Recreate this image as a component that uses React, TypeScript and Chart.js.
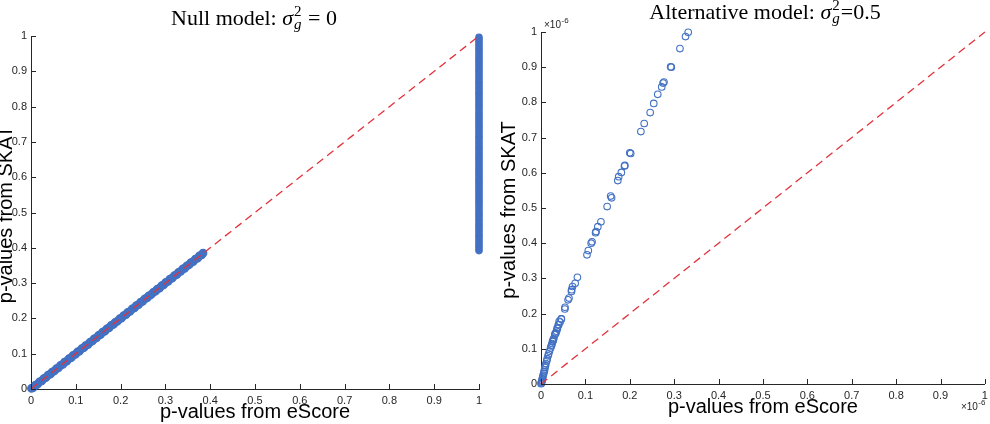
import { useEffect, useRef } from 'react';
import { Chart, registerables } from 'chart.js';

Chart.register(...registerables);

// Shared tick positions and their printed labels (both axes, both panels)
const TICK_VALUES = [0, 0.1, 0.2, 0.3, 0.4, 0.5, 0.6, 0.7, 0.8, 0.9, 1];
const TICK_LABELS = ['0', '0.1', '0.2', '0.3', '0.4', '0.5', '0.6', '0.7', '0.8', '0.9', '1'];

// y = x reference line
const REF_LINE_X = [0, 1];
const REF_LINE_Y = [0, 1];

// Null model: points lying on the diagonal (eScore vs SKAT p-values)
const NULL_DIAG_ESCORE = [
  0.001, 0.005, 0.010, 0.014, 0.019, 0.024, 0.028, 0.033, 0.038, 0.043, 0.047, 0.052,
  0.057, 0.061, 0.066, 0.071, 0.075, 0.080, 0.085, 0.090, 0.094, 0.099, 0.104, 0.108,
  0.113, 0.118, 0.122, 0.127, 0.132, 0.137, 0.141, 0.146, 0.151, 0.155, 0.160, 0.165,
  0.169, 0.174, 0.179, 0.184, 0.188, 0.193, 0.198, 0.202, 0.207, 0.212, 0.216, 0.221,
  0.226, 0.231, 0.235, 0.240, 0.245, 0.249, 0.254, 0.259, 0.263, 0.268, 0.273, 0.278,
  0.282, 0.287, 0.292, 0.296, 0.301, 0.306, 0.310, 0.315, 0.320, 0.325, 0.329, 0.334,
  0.339, 0.343, 0.348, 0.353, 0.357, 0.362, 0.367, 0.372, 0.376, 0.381, 0.384,
];
const NULL_DIAG_SKAT = [
  0.002, 0.004, 0.011, 0.013, 0.020, 0.023, 0.029, 0.032, 0.039, 0.042, 0.048, 0.051,
  0.058, 0.060, 0.067, 0.070, 0.076, 0.079, 0.086, 0.089, 0.095, 0.098, 0.105, 0.107,
  0.114, 0.117, 0.123, 0.126, 0.133, 0.136, 0.142, 0.145, 0.152, 0.154, 0.161, 0.164,
  0.170, 0.173, 0.180, 0.183, 0.189, 0.192, 0.199, 0.201, 0.208, 0.211, 0.217, 0.220,
  0.227, 0.230, 0.236, 0.239, 0.246, 0.248, 0.255, 0.258, 0.264, 0.267, 0.274, 0.277,
  0.283, 0.286, 0.293, 0.295, 0.302, 0.305, 0.311, 0.314, 0.321, 0.324, 0.330, 0.333,
  0.340, 0.342, 0.349, 0.352, 0.358, 0.361, 0.368, 0.371, 0.377, 0.380, 0.385,
];

// Null model: eScore p-value of exactly 1, SKAT p-values spread above 0.39
const NULL_TOP_ESCORE = 1;
const NULL_TOP_SKAT = [
  0.392, 0.400, 0.407, 0.415, 0.423, 0.431, 0.438, 0.446, 0.454, 0.462, 0.469, 0.477,
  0.485, 0.493, 0.500, 0.508, 0.516, 0.524, 0.531, 0.539, 0.547, 0.555, 0.562, 0.570,
  0.578, 0.586, 0.593, 0.601, 0.609, 0.617, 0.624, 0.632, 0.640, 0.648, 0.655, 0.663,
  0.671, 0.679, 0.686, 0.694, 0.702, 0.710, 0.717, 0.725, 0.733, 0.741, 0.748, 0.756,
  0.764, 0.772, 0.779, 0.787, 0.795, 0.803, 0.810, 0.818, 0.826, 0.834, 0.841, 0.849,
  0.857, 0.865, 0.872, 0.880, 0.888, 0.896, 0.903, 0.911, 0.919, 0.927, 0.934, 0.942,
  0.950, 0.958, 0.965, 0.973, 0.981, 0.989, 0.996,
];

// Alternative model (values in units of 1e-6)
const ALT_ESCORE = [
  0.0003, 0.0007, 0.001, 0.002, 0.0025, 0.003, 0.004, 0.005, 0.006, 0.007, 0.008, 0.009,
  0.010, 0.011, 0.013, 0.014, 0.016, 0.017, 0.019, 0.0216, 0.023, 0.024, 0.025, 0.026,
  0.027, 0.0276, 0.029, 0.031, 0.032, 0.0335, 0.035, 0.0365, 0.037, 0.039, 0.040, 0.041,
  0.043, 0.0455, 0.046, 0.0537, 0.054, 0.061, 0.063, 0.0686, 0.069, 0.071, 0.077, 0.082,
  0.1036, 0.1066, 0.113, 0.115, 0.123, 0.124, 0.128, 0.135, 0.149, 0.157, 0.159, 0.173,
  0.175, 0.181, 0.188, 0.189, 0.200, 0.202, 0.225, 0.2325, 0.246, 0.254, 0.263, 0.272,
  0.275, 0.277, 0.292, 0.2936, 0.313, 0.3256, 0.3316,
];
const ALT_SKAT = [
  0.001, 0.003, 0.005, 0.008, 0.011, 0.015, 0.020, 0.025, 0.030, 0.035, 0.040, 0.047,
  0.052, 0.058, 0.066, 0.072, 0.080, 0.085, 0.093, 0.102, 0.108, 0.111, 0.115, 0.121,
  0.122, 0.126, 0.130, 0.140, 0.143, 0.145, 0.150, 0.159, 0.158, 0.168, 0.168, 0.178,
  0.176, 0.185, 0.185, 0.213, 0.218, 0.239, 0.244, 0.263, 0.268, 0.277, 0.286, 0.303,
  0.367, 0.379, 0.400, 0.404, 0.430, 0.433, 0.447, 0.461, 0.504, 0.534, 0.529, 0.578,
  0.589, 0.601, 0.619, 0.621, 0.657, 0.655, 0.717, 0.740, 0.771, 0.797, 0.823, 0.844,
  0.855, 0.858, 0.901, 0.900, 0.953, 0.987, 0.999,
];

const BLUE = '#4371c3';
const RED = '#e2333b';
const INK = '#262626';
const SANS = '"Liberation Sans", Arial, Helvetica, sans-serif';
const SERIF = '"Liberation Serif", "Times New Roman", serif';

type Pt = { x: number; y: number };

const zip = (xs: number[], ys: number[]): Pt[] =>
  xs.slice(0, Math.min(xs.length, ys.length)).map((x, i) => ({ x, y: ys[i] }));

interface TitleSpec {
  prefix: string;
  suffix: string;
  cx: number;
  baseline: number;
}

interface PanelSpec {
  title: TitleSpec;
  area: { left: number; right: number; top: number; bottom: number };
  yLabelX: number;
  xLabelBaseline: number;
  exponent: boolean;
  datasets: any[];
}

const W = 495;
const H = 424;

function drawMathTitle(ctx: CanvasRenderingContext2D, t: TitleSpec) {
  const big = `22px ${SERIF}`;
  const bigIt = `italic 22px ${SERIF}`;
  const small = `15px ${SERIF}`;
  const smallIt = `italic 15px ${SERIF}`;
  ctx.save();
  ctx.fillStyle = '#000';
  ctx.textBaseline = 'alphabetic';
  ctx.textAlign = 'left';
  ctx.font = big;
  const wPre = ctx.measureText(t.prefix).width;
  const wSuf = ctx.measureText(t.suffix).width;
  ctx.font = bigIt;
  const wSig = ctx.measureText('σ').width + 1;
  ctx.font = small;
  const wSup = ctx.measureText('2').width;
  ctx.font = smallIt;
  const wSub = ctx.measureText('g').width;
  const wScript = Math.max(wSup, wSub) + 1;
  const total = wPre + wSig + wScript + wSuf;
  let x = t.cx - total / 2;
  const y = t.baseline;
  ctx.font = big;
  ctx.fillText(t.prefix, x, y);
  x += wPre;
  ctx.font = bigIt;
  ctx.fillText('σ', x, y);
  x += wSig;
  ctx.font = small;
  ctx.fillText('2', x, y - 9);
  ctx.font = smallIt;
  ctx.fillText('g', x, y + 4);
  x += wScript;
  ctx.font = big;
  ctx.fillText(t.suffix, x, y);
  ctx.restore();
}

function drawExponent(ctx: CanvasRenderingContext2D, x: number, y: number) {
  ctx.save();
  ctx.fillStyle = INK;
  ctx.textAlign = 'left';
  ctx.textBaseline = 'alphabetic';
  ctx.font = `10px ${SANS}`;
  ctx.fillText('×10', x, y);
  const w = ctx.measureText('×10').width;
  ctx.font = `8px ${SANS}`;
  ctx.fillText('-6', x + w + 0.5, y - 5);
  ctx.restore();
}

function makePanel(canvas: HTMLCanvasElement, spec: PanelSpec): Chart {
  const { area } = spec;
  const decor = {
    id: 'panelDecor',
    afterDraw(chart: any) {
      const ctx: CanvasRenderingContext2D = chart.ctx;
      const xs = chart.scales.x;
      const ys = chart.scales.y;
      const ca = chart.chartArea;
      // inward tick marks
      ctx.save();
      ctx.strokeStyle = INK;
      ctx.lineWidth = 1;
      ctx.beginPath();
      TICK_VALUES.forEach((v) => {
        const px = Math.round(xs.getPixelForValue(v)) + 0.5;
        ctx.moveTo(px, ca.bottom);
        ctx.lineTo(px, ca.bottom - 5);
        const py = Math.round(ys.getPixelForValue(v)) + 0.5;
        ctx.moveTo(ca.left, py);
        ctx.lineTo(ca.left + 5, py);
      });
      ctx.stroke();
      ctx.restore();

      drawMathTitle(ctx, spec.title);

      // axis titles
      ctx.save();
      ctx.fillStyle = '#000';
      ctx.font = `20px ${SANS}`;
      ctx.textAlign = 'center';
      ctx.textBaseline = 'alphabetic';
      ctx.fillText('p-values from eScore', (ca.left + ca.right) / 2, spec.xLabelBaseline);
      ctx.translate(spec.yLabelX, (ca.top + ca.bottom) / 2 + 2);
      ctx.rotate(-Math.PI / 2);
      ctx.fillText('p-values from SKAT', 0, 0);
      ctx.restore();

      if (spec.exponent) {
        drawExponent(ctx, ca.left + 3, ca.top - 4);
        drawExponent(ctx, ca.right - 24, ca.bottom + 26);
      }
    },
  };

  const fixBox = (width: number | null, height: number | null) => (scale: any) => {
    if (width !== null) scale.width = width;
    if (height !== null) scale.height = height;
    scale.paddingLeft = 0;
    scale.paddingRight = 0;
    scale.paddingTop = 0;
    scale.paddingBottom = 0;
  };

  const setTicks = (scale: any) => {
    scale.ticks = TICK_VALUES.map((value) => ({ value }));
  };

  const tickFont = { family: SANS, size: 11 };

  return new Chart(canvas, {
    type: 'scatter',
    data: { datasets: spec.datasets },
    plugins: [decor],
    options: {
      responsive: false,
      animation: false,
      events: [],
      layout: {
        padding: { left: 0, right: W - area.right, top: area.top, bottom: 0 },
      },
      plugins: {
        legend: { display: false },
        tooltip: { enabled: false },
        title: { display: false },
      },
      scales: {
        x: {
          type: 'linear',
          min: 0,
          max: 1,
          afterFit: fixBox(null, H - area.bottom),
          afterBuildTicks: setTicks,
          grid: { display: true, drawOnChartArea: false, drawTicks: false },
          border: { display: true, color: INK, width: 1 },
          ticks: {
            color: INK,
            font: tickFont,
            padding: 5,
            autoSkip: false,
            maxRotation: 0,
            callback: (_v: any, i: number) => TICK_LABELS[i],
          },
        },
        y: {
          type: 'linear',
          min: 0,
          max: 1,
          afterFit: fixBox(area.left, null),
          afterBuildTicks: setTicks,
          grid: { display: true, drawOnChartArea: false, drawTicks: false },
          border: { display: true, color: INK, width: 1 },
          ticks: {
            color: INK,
            font: tickFont,
            padding: 4,
            autoSkip: false,
            callback: (_v: any, i: number) => TICK_LABELS[i],
          },
        },
      },
    } as any,
  });
}

const refLine = () => ({
  type: 'line',
  data: zip(REF_LINE_X, REF_LINE_Y),
  borderColor: RED,
  borderWidth: 1.3,
  borderDash: [8, 5],
  pointRadius: 0,
  showLine: true,
  fill: false,
  clip: false,
});

function Panel({ spec, left }: { spec: PanelSpec; left: number }) {
  const ref = useRef<HTMLCanvasElement | null>(null);
  useEffect(() => {
    if (!ref.current) return;
    const chart = makePanel(ref.current, spec);
    return () => chart.destroy();
  }, [spec]);
  return (
    <canvas
      ref={ref}
      width={W}
      height={H}
      style={{ position: 'absolute', left, top: 0, width: W, height: H }}
    />
  );
}

const NULL_PANEL: PanelSpec = {
  title: { prefix: 'Null model: ', suffix: ' = 0', cx: 254, baseline: 25 },
  area: { left: 31, right: 479, top: 36, bottom: 389 },
  yLabelX: 12,
  xLabelBaseline: 418,
  exponent: false,
  datasets: [
    refLine(),
    {
      type: 'scatter',
      data: zip(NULL_DIAG_ESCORE, NULL_DIAG_SKAT),
      borderColor: BLUE,
      backgroundColor: BLUE,
      pointRadius: 3.8,
      borderWidth: 1.2,
      clip: false,
    },
    {
      type: 'scatter',
      data: NULL_TOP_SKAT.map((y) => ({ x: NULL_TOP_ESCORE, y })),
      borderColor: BLUE,
      backgroundColor: BLUE,
      pointRadius: 3.2,
      borderWidth: 1.2,
      clip: false,
    },
  ],
};

const ALT_PANEL: PanelSpec = {
  title: { prefix: 'Alternative model: ', suffix: '=0.5', cx: 270, baseline: 19 },
  area: { left: 46, right: 493, top: 32, bottom: 384 },
  yLabelX: 20,
  xLabelBaseline: 413,
  exponent: true,
  datasets: [
    refLine(),
    {
      type: 'scatter',
      data: zip(ALT_ESCORE, ALT_SKAT),
      borderColor: BLUE,
      backgroundColor: 'rgba(0,0,0,0)',
      pointRadius: 3.3,
      borderWidth: 1.1,
      clip: false,
    },
  ],
};

export default function App() {
  return (
    <div
      style={{
        position: 'fixed',
        left: 0,
        top: 0,
        width: 990,
        height: 424,
        background: '#fff',
        overflow: 'hidden',
      }}
    >
      <Panel spec={NULL_PANEL} left={0} />
      <Panel spec={ALT_PANEL} left={W} />
    </div>
  );
}
